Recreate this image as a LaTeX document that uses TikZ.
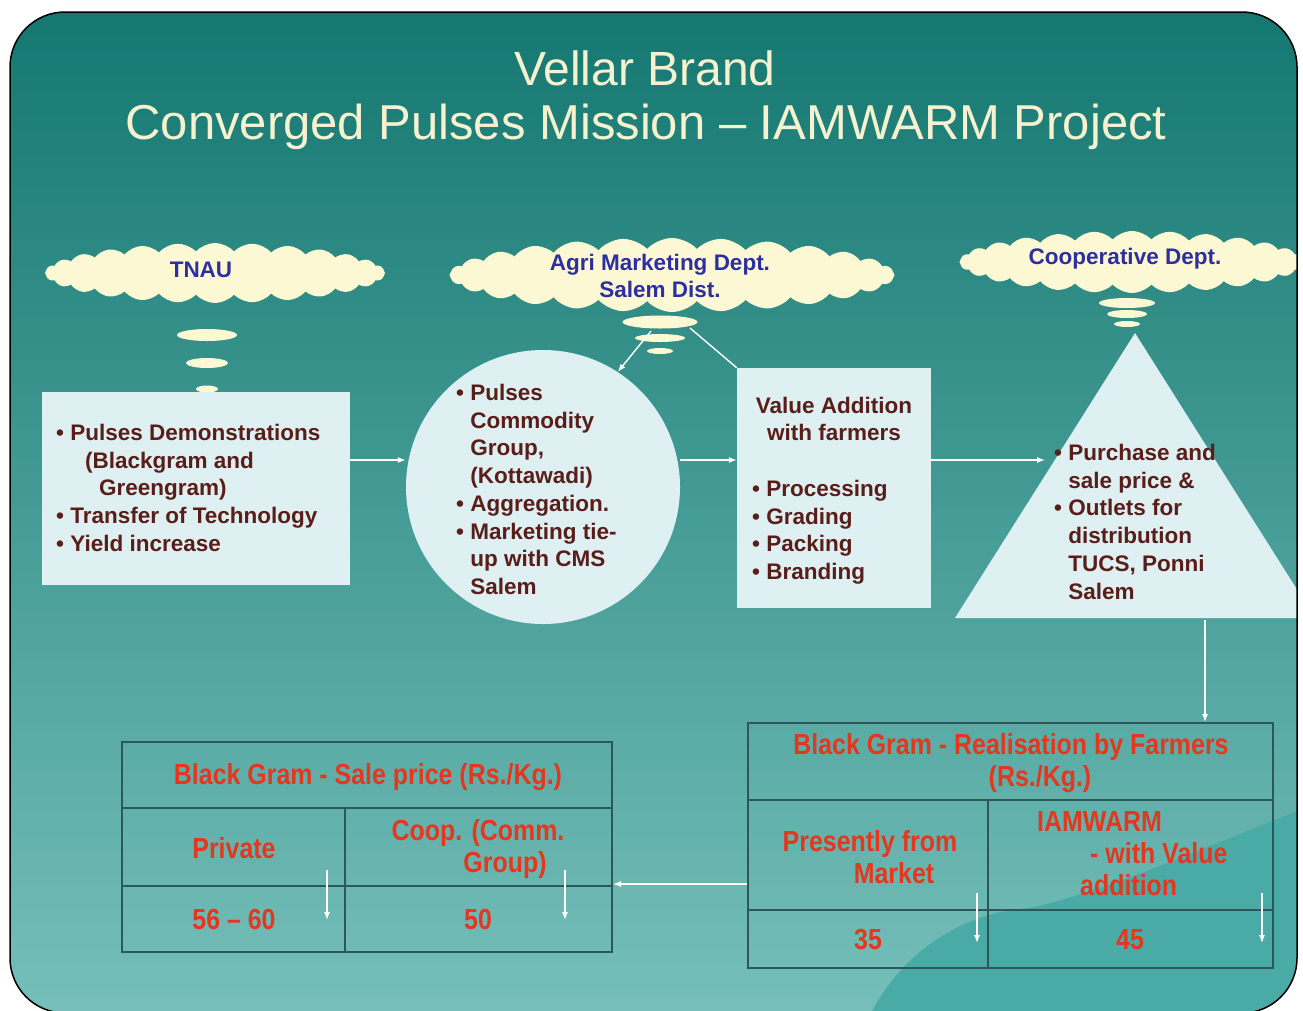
\documentclass[tikz,border=0pt]{standalone}
\usepackage{fontspec}
\setmainfont{Liberation Sans}
\newfontfamily\tabfont{Liberation Sans}[FakeStretch=0.86,Ligatures=TeX]
\usetikzlibrary{shapes.symbols,shapes.geometric,arrows.meta}
\definecolor{bgTop}{HTML}{137770}
\definecolor{bgMid}{HTML}{2A958F}
\definecolor{bgBot}{HTML}{76BFBA}
\definecolor{wave}{HTML}{4AABA6}
\definecolor{cream}{HTML}{FCF8D4}
\definecolor{boxfill}{HTML}{DFF0F2}
\definecolor{txtbrown}{HTML}{5A1E1A}
\definecolor{txtblue}{HTML}{2E2F9E}
\definecolor{txtred}{HTML}{E5361E}
\definecolor{tabline}{HTML}{2D585A}
\definecolor{titlecol}{HTML}{F6F1CF}
\begin{document}
\begin{tikzpicture}[x=1pt,y=-1pt,
  cloudshape/.style={cloud, cloud puffs=28, cloud puff arc=95, cloud ignores aspect, fill=cream, inner sep=0pt},
  bubble/.style={ellipse, fill=cream, inner sep=0pt},
  panel/.style={fill=boxfill, inner sep=0pt},
  boxtext/.style={text=txtbrown, font=\fontsize{22.5}{27.7}\selectfont\bfseries, inner sep=0pt, align=left},
  cloudtext/.style={text=txtblue, font=\fontsize{22.5}{27}\selectfont\bfseries, inner sep=0pt, align=center},
  tabtext/.style={text=txtred, font=\tabfont\fontsize{29}{32}\selectfont\bfseries, inner sep=0pt, align=center},
  titletext/.style={text=titlecol, inner sep=0pt},
  arr/.style={white, line width=1.4pt, -{Latex[length=8pt,width=6pt]}},
  plainline/.style={white, line width=1.4pt},
  tabrule/.style={tabline, line width=2.5pt},
  tabvrule/.style={tabline, line width=1.5pt}]
\useasboundingbox (0,0) rectangle (1303,1010);
\fill[white] (0,0) rectangle (1303,1010);
\begin{scope}
\clip[rounded corners=55] (10,12) rectangle (1297,1013);
\shade[top color=bgTop, middle color=bgMid, bottom color=bgBot] (0,0) rectangle (1303,1013);
\fill[wave] (870,1015) .. controls (900,955) and (960,912) .. (1030,908)
  .. controls (1110,890) and (1210,845) .. (1300,810) -- (1300,1015) -- cycle;
% title
\node[titletext, font=\fontsize{48}{50}\selectfont] (title1) at (645,68) {Vellar Brand};
\node[titletext, font=\fontsize{49}{50}\selectfont] (title2) at (646,127) {Converged Pulses Mission – IAMWARM Project};
% clouds
\node[cloudshape, minimum width=340, minimum height=60] (c1) at (215,273) {};
\node[cloudshape, minimum width=445, minimum height=74] (c2) at (672,275) {};
\node[cloudshape, minimum width=345, minimum height=62] (c3) at (1132,262) {};
\node[cloudtext] (c1t) at (201,270) {TNAU};
\node[cloudtext] (c2t) at (660,276) {Agri Marketing Dept.\\Salem Dist.};
\node[cloudtext] (c3t) at (1125,259) {Cooperative Dept.};
% thought bubbles
\node[bubble, minimum width=60, minimum height=12] (b11) at (207,335) {};
\node[bubble, minimum width=42, minimum height=10] (b12) at (207,363) {};
\node[bubble, minimum width=22, minimum height=7] (b13) at (207,389) {};
\node[bubble, minimum width=75, minimum height=13] (b21) at (660,322) {};
\node[bubble, minimum width=50, minimum height=8] (b22) at (660,338) {};
\node[bubble, minimum width=26, minimum height=6] (b23) at (660,351) {};
\node[bubble, minimum width=56, minimum height=10] (b31) at (1127,303) {};
\node[bubble, minimum width=40, minimum height=8] (b32) at (1127,314) {};
\node[bubble, minimum width=26, minimum height=6] (b33) at (1127,324) {};
% panels
\node[panel, rectangle, minimum width=308, minimum height=193] (tbox) at (196,488.5) {};
\node[panel, circle, minimum size=274] (circ) at (543,487) {};
\node[panel, rectangle, minimum width=194, minimum height=240] (vbox) at (834,488) {};
\fill[boxfill] (1135,333) -- (1315,618) -- (955,618) -- cycle;
\coordinate (triL) at (1045,460);
\coordinate (triB) at (1205,620);
% panel texts
\node[boxtext, anchor=north west] (tboxt) at (56,424) {\textbullet\ Pulses Demonstrations\\
\hspace*{29pt}(Blackgram and\\
\hspace*{43pt}Greengram)\\
\textbullet\ Transfer of Technology\\
\textbullet\ Yield increase};
\node[boxtext, anchor=north west] (circt) at (456,384) {\textbullet\ Pulses\\
\phantom{\textbullet\ }Commodity\\
\phantom{\textbullet\ }Group,\\
\phantom{\textbullet\ }(Kottawadi)\\
\textbullet\ Aggregation.\\
\textbullet\ Marketing tie-\\
\phantom{\textbullet\ }up with CMS\\
\phantom{\textbullet\ }Salem};
\node[boxtext, align=center] (vboxh) at (834,419) {Value Addition\\with farmers};
\node[boxtext, anchor=north west] (vboxt) at (752,480) {\textbullet\ Processing\\
\textbullet\ Grading\\
\textbullet\ Packing\\
\textbullet\ Branding};
\node[boxtext, anchor=north west] (trit) at (1054,444) {\textbullet\ Purchase and\\
\phantom{\textbullet\ }sale price \&\\
\textbullet\ Outlets for\\
\phantom{\textbullet\ }distribution\\
\phantom{\textbullet\ }TUCS, Ponni\\
\phantom{\textbullet\ }Salem};
% connectors
\coordinate (agriA) at (651,331);
\coordinate (agriB) at (690,328);
\draw[arr] (tbox.east |- 0,460) -- (circ.west |- 0,460);
\draw[arr] (circ.east |- 0,460) -- (vbox.west |- 0,460);
\draw[arr] (vbox.east |- 0,460) -- (triL);
\draw[arr] (agriA) -- (circ.57);
\draw[plainline] (agriB) -- (vbox.north west);
% tables
\node[draw=tabline, line width=2pt, rectangle, minimum width=490, minimum height=210, inner sep=0pt] (ltab) at (367,847) {};
\node[draw=tabline, line width=2pt, rectangle, minimum width=525, minimum height=245, inner sep=0pt] (rtab) at (1010.5,845.5) {};
\draw[tabrule] (ltab.west |- 0,808) -- (ltab.east |- 0,808);
\draw[tabrule] (ltab.west |- 0,886) -- (ltab.east |- 0,886);
\draw[tabvrule] (345,808) -- (ltab.south -| 345,0);
\draw[tabrule] (rtab.west |- 0,800) -- (rtab.east |- 0,800);
\draw[tabrule] (rtab.west |- 0,910) -- (rtab.east |- 0,910);
\draw[tabvrule] (988,800) -- (rtab.south -| 988,0);
\node[tabtext] (lh) at (368,777) {Black Gram - Sale price (Rs./Kg.)};
\node[tabtext] (lc1) at (234,848) {Private};
\node[tabtext] (lc2) at (478,849) {Coop. (Comm.\\\hspace*{54pt}Group)};
\node[tabtext] (lv1) at (234,920) {56 – 60};
\node[tabtext] (lv2) at (478,920) {50};
\node[tabtext] (rh) at (1011,763) {Black Gram - Realisation by Farmers\\\hspace*{58pt}(Rs./Kg.)};
\node[tabtext] (rc1) at (870,857) {Presently from\\\hspace*{48pt}Market};
\node[tabtext, align=left, anchor=north west] (rc2) at (1037,811) {IAMWARM\\\hspace*{53pt}- with Value\\\hspace*{43pt}addition};
\node[tabtext] (rv1) at (868,940) {35};
\node[tabtext] (rv2) at (1130,940) {45};
% table connectors
\draw[arr] (triB) -- (rtab.north -| triB);
\draw[arr] (rtab.west |- 0,884) -- (ltab.east |- 0,884);
\coordinate (d1a) at (327,870); \coordinate (d1b) at (327,920);
\coordinate (d2a) at (565,870); \coordinate (d2b) at (565,920);
\coordinate (d3a) at (977,893); \coordinate (d3b) at (977,943);
\coordinate (d4a) at (1262,893); \coordinate (d4b) at (1262,943);
\draw[arr] (d1a) -- (d1b);
\draw[arr] (d2a) -- (d2b);
\draw[arr] (d3a) -- (d3b);
\draw[arr] (d4a) -- (d4b);
\end{scope}
\draw[black, line width=1.5pt, rounded corners=55] (10,12) rectangle (1297,1013);
\end{tikzpicture}
\end{document}
